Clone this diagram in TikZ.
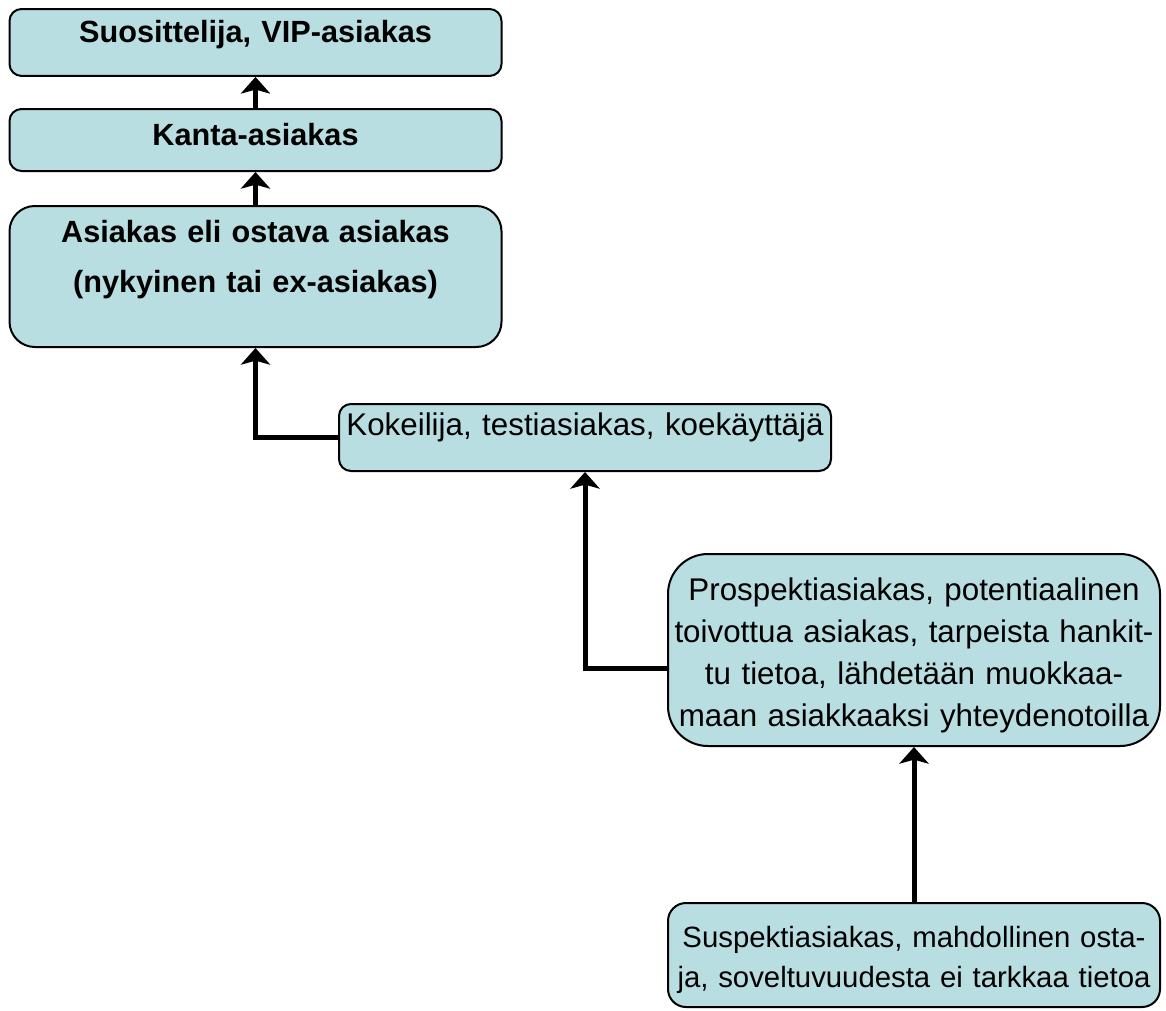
\documentclass[tikz,border=0pt]{standalone}
\usepackage{fontspec}
\setmainfont{Liberation Sans}
\usetikzlibrary{arrows.meta,calc}
\definecolor{boxblue}{RGB}{184,222,226}

\begin{document}
\begin{tikzpicture}[x=0.75pt,y=-0.75pt,
  box/.style={draw,line width=1.5pt,fill=boxblue,rounded corners=9pt,anchor=north,inner sep=0pt,
    text width=369pt,align=center,font=\fontsize{23.5}{30}\selectfont},
  boldbox/.style={box,font=\fontsize{23}{37.5}\selectfont\bfseries},
  arr/.style={line width=3.75pt,-{Stealth[length=12.5pt,width=22pt,inset=3pt]}}]
\useasboundingbox (0,0) rectangle (1166,1010);

\node[boldbox,text height=25pt,text depth=25.2pt] (vip) at (255.5,8) {Suosittelija, VIP-asiakas};
\node[boldbox,text height=27.5pt,text depth=19pt] (kanta) at (255.5,108) {Kanta-asiakas};
\node[boldbox,rounded corners=19pt,text height=27pt,text depth=78.75pt] (asiakas) at (255.5,205)
  {Asiakas eli ostava asiakas\\(nykyinen tai ex-asiakas)};
\node[box,text height=23.25pt,text depth=27pt] (kokeilija) at (585,403) {Kokeilija, testiasiakas, koekäyttäjä};
\node[box,rounded corners=30pt,font=\fontsize{23.5}{31.5}\selectfont,text height=34.5pt,text depth=109.5pt] (prospekti) at (914,553)
  {Prospektiasiakas, potentiaalinen\\toivottua asiakas, tarpeista hankit-\\tu tietoa, lähdetään muokkaa-\\maan asiakkaaksi yhteydenotoilla};
\node[box,rounded corners=13.5pt,font=\fontsize{22}{30}\selectfont,text height=33pt,text depth=45pt] (suspekti) at (914,902)
  {Suspektiasiakas, mahdollinen osta-\\ja, soveltuvuudesta ei tarkkaa tietoa};

\draw[arr] (kanta.north) -- (vip.south);
\draw[arr] (asiakas.north) -- (kanta.south);
\draw[arr] (kokeilija.west) -| (asiakas.south);
\draw[arr] ($(prospekti.west)+(0,18)$) -| (kokeilija.south);
\draw[arr] (suspekti.north) -- (prospekti.south);
\end{tikzpicture}
\end{document}
